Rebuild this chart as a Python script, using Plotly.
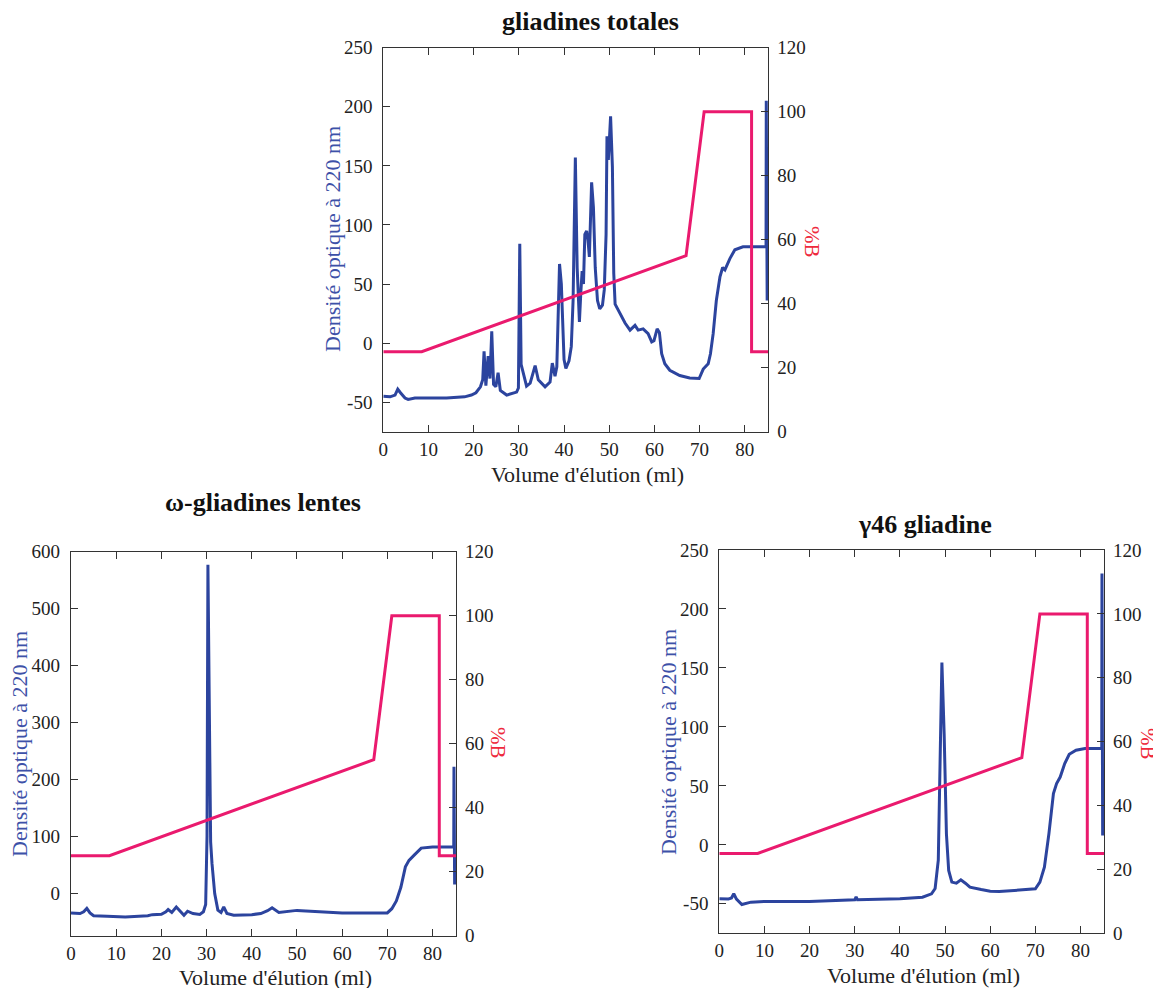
import plotly.graph_objects as go

# ---------------- data ----------------
# Elution gradient (%B), common to the three runs
grad_x = [0, 8.5, 67, 71, 81.5, 81.5, 85.3]
grad_b = [25, 25, 55, 100, 100, 25, 25]

# gliadines totales
x_total = [0, 1.5, 2.6, 3.2, 3.8, 4.8, 5.5, 7, 10, 14, 18, 19.5, 20.5, 21.5, 22, 22.3, 22.7,
           23.2, 23.6, 24, 24.4, 24.9, 25.4, 25.9, 27.3, 29.5, 29.9, 30.2, 30.5, 31.1, 31.7,
           32.5, 33.6, 34.3, 35.8, 36.9, 37.4, 38, 38.4, 39, 39.4, 40, 40.4, 41.1, 41.6, 42,
           42.5, 42.9, 43.4, 43.7, 44, 44.3, 44.6, 45, 45.3, 45.6, 46.1, 46.5, 46.9, 47.4,
           47.9, 48.5, 48.9, 49.3, 49.5, 49.8, 50.0, 50.3, 50.7, 51, 51.3, 52, 52.7, 53.5,
           54.6, 55.7, 56.4, 57.5, 58.6, 59.4, 59.9, 60.6, 61.1, 61.6, 62.3, 63.4, 65.6, 67.8,
           69.9, 70.8, 71.9, 72.4, 73, 73.7, 74.5, 75.1, 75.6, 76.7, 77.8, 79.6, 84.7, 84.75, 84.95]
od_total = [-45, -45.5, -44, -39, -42, -46.5, -47.7, -46.5, -46.5, -46.5, -45.5, -44, -42, -37,
            -31, -7, -36, -11, -30, 10, -35, -37, -25, -40, -44, -41.5, -38, 84, -18, -27, -36.5,
            -34, -19, -31, -37, -33, -17, -28, -20, 67, 50, -14, -21.5, -15, -3, 36, 157, 64,
            18, 42, 61, 50, 92, 95, 87, 73, 136, 115, 64, 36, 29, 32, 45, 92, 175, 155, 175,
            192, 149, 59, 33, 28, 22, 17, 11, 15, 11, 12, 8, 1, 2, 12, 9, -9, -17.5, -23,
            -27.5, -29.5, -30, -22, -17.5, -9, 8, 36, 56, 64, 62, 71.5, 79, 81.5, 81.5, 205, 36]

# omega-gliadines lentes
x_omega = [0, 2, 2.8, 3.5, 4.2, 5, 8, 12, 17, 18, 20, 21, 21.5, 22.3, 23.3, 24.5, 25, 25.8, 27,
           28.5, 29.3, 29.8, 30.1, 30.3, 30.6, 30.9, 31.2, 31.8, 32.5, 33.2, 33.8, 34.5, 36, 40,
           42, 43.5, 44.5, 46, 50, 55, 60, 70, 71, 72, 73, 74, 74.8, 76, 77.5, 80, 84.7, 84.75, 84.9]
od_omega = [-35, -36, -33, -27, -35, -40, -41, -42, -40, -38, -37.5, -33, -29, -34, -24.5, -36,
            -39, -32, -36, -37.5, -33, -20, 100, 577, 250, 90, 52, -1, -30, -34, -24.5, -36, -39,
            -38, -36, -31, -26, -34, -30.5, -33, -35, -35, -27.5, -14, 10, 46, 57.5, 67, 79, 81,
            81, 222, 15]

# gamma46 gliadine
x_gamma = [0, 2, 2.7, 3.2, 3.8, 5, 7, 10, 20, 30, 30.3, 30.6, 40, 45, 47, 47.8, 48.5, 49, 49.3,
           49.8, 50.3, 50.8, 51.5, 52.5, 53.5, 54.5, 55.5, 58, 60, 62, 65, 68, 70, 71, 72, 73,
           74, 74.7, 75.5, 76.5, 77.5, 79, 81, 84.7, 84.75, 84.9]
od_gamma = [-45.8, -46, -45, -41.5, -46, -50.6, -48.6, -48, -48, -46.6, -44, -46.6, -45.8, -44.4,
            -41.5, -37, -13, 94, 154.6, 94, 9.4, -21.7, -31.6, -32.5, -29.6, -32.5, -35.9, -37.9,
            -39.3, -39.6, -38.7, -37.6, -37.3, -31.6, -18.9, 9.4, 43.4, 52, 57.5, 68.9, 76.8,
            80.2, 81.6, 81.6, 230, 8]

# tick labels
od_ticks_250 = [-50, 0, 50, 100, 150, 200, 250]
od_ticks_600 = [0, 100, 200, 300, 400, 500, 600]
b_ticks = [0, 20, 40, 60, 80, 100, 120]
x_ticks = [0, 10, 20, 30, 40, 50, 60, 70, 80]

titles = ["gliadines totales", "\u03c9-gliadines lentes", "\u03b346 gliadine"]
x_title = "Volume d'\u00e9lution (ml)"
y_title = "Densit\u00e9 optique \u00e0 220 nm"
b_title = "%B"

# ---------------- style ----------------
W, H = 1161, 988
OFF = 8  # page body margin
BLUE = "#2c449e"
PINK = "#ea1a6e"
YT_BLUE = "#3d51a8"
RED = "#ee2a3c"
AX = "#333333"
FONT = "Liberation Serif"


def px(xp):
    return (xp - OFF) / W


def py(yp):
    return 1 - (yp - OFF) / H


panels = [
    dict(x=x_total, y=od_total, xd=(383.3, 768.3), yd=(47.7, 431.7), yr=[-75, 250],
         yt=od_ticks_250, title=(590, 21), xt=(587, 474), ytp=(332, 239), bt=(812, 242)),
    dict(x=x_omega, y=od_omega, xd=(71, 456), yd=(551.7, 935.7), yr=[-75, 600],
         yt=od_ticks_600, title=(263, 502), xt=(275, 977), ytp=(19, 744), bt=(498, 743)),
    dict(x=x_gamma, y=od_gamma, xd=(719.3, 1104), yd=(550, 933.3), yr=[-75, 250],
         yt=od_ticks_250, title=(925, 524), xt=(923, 975), ytp=(668, 742), bt=(1148, 744)),
]

fig = go.Figure()
layout = dict(width=W, height=H, margin=dict(l=0, r=0, t=0, b=0, pad=0, autoexpand=False),
              autosize=False,
              paper_bgcolor="white", plot_bgcolor="white", showlegend=False,
              font=dict(family=FONT, size=19, color="#222222"))
annotations = []

tick_font = dict(family=FONT, size=19, color="#222222")

for i, p in enumerate(panels):
    xa = "x" if i == 0 else f"x{i + 1}"
    ya = f"y{2 * i + 1}" if i > 0 else "y"
    yb = f"y{2 * i + 2}"
    xa_key = "xaxis" if i == 0 else f"xaxis{i + 1}"
    ya_key = "yaxis" if i == 0 else f"yaxis{2 * i + 1}"
    yb_key = f"yaxis{2 * i + 2}"

    fig.add_trace(go.Scatter(x=p["x"], y=p["y"], xaxis=xa, yaxis=ya, mode="lines",
                             line=dict(color=BLUE, width=3)))
    fig.add_trace(go.Scatter(x=grad_x, y=grad_b, xaxis=xa, yaxis=yb, mode="lines",
                             line=dict(color=PINK, width=3)))

    common = dict(ticks="inside", ticklen=7, tickcolor=AX, showline=True, linecolor=AX,
                  linewidth=1.2, showgrid=False, zeroline=False, tickfont=tick_font,
                  automargin=False)
    layout[xa_key] = dict(domain=[px(p["xd"][0]), px(p["xd"][1])], anchor=ya,
                          range=[0, 85.2], tickvals=x_ticks, ticktext=[str(v) for v in x_ticks],
                          mirror="ticks", ticklabelstandoff=0, **common)
    layout[ya_key] = dict(domain=[py(p["yd"][1]), py(p["yd"][0])], anchor=xa,
                          range=p["yr"], tickvals=p["yt"], ticktext=[str(v) for v in p["yt"]],
                          mirror=True, ticklabelstandoff=6, **common)
    layout[yb_key] = dict(overlaying=ya, anchor=xa, side="right", range=[0, 120],
                          tickvals=b_ticks, ticktext=[str(v) for v in b_ticks],
                          ticklabelstandoff=4, **common)

    annotations += [
        dict(text=f"<b>{titles[i]}</b>", x=px(p["title"][0]), y=py(p["title"][1]),
             xref="paper", yref="paper", showarrow=False, xanchor="center", yanchor="middle",
             font=dict(family=FONT, size=26, color="#111111")),
        dict(text=x_title, x=px(p["xt"][0]), y=py(p["xt"][1]), xref="paper", yref="paper",
             showarrow=False, xanchor="center", yanchor="middle",
             font=dict(family=FONT, size=22, color="#222222")),
        dict(text=y_title, x=px(p["ytp"][0]), y=py(p["ytp"][1]), xref="paper", yref="paper",
             showarrow=False, xanchor="center", yanchor="middle", textangle=-90,
             font=dict(family=FONT, size=22, color=YT_BLUE)),
        dict(text=b_title, x=px(p["bt"][0]), y=py(p["bt"][1]), xref="paper", yref="paper",
             showarrow=False, xanchor="center", yanchor="middle", textangle=90,
             font=dict(family=FONT, size=21, color=RED)),
    ]

layout["annotations"] = annotations
fig.update_layout(**layout)
fig.write_html("out.html")
